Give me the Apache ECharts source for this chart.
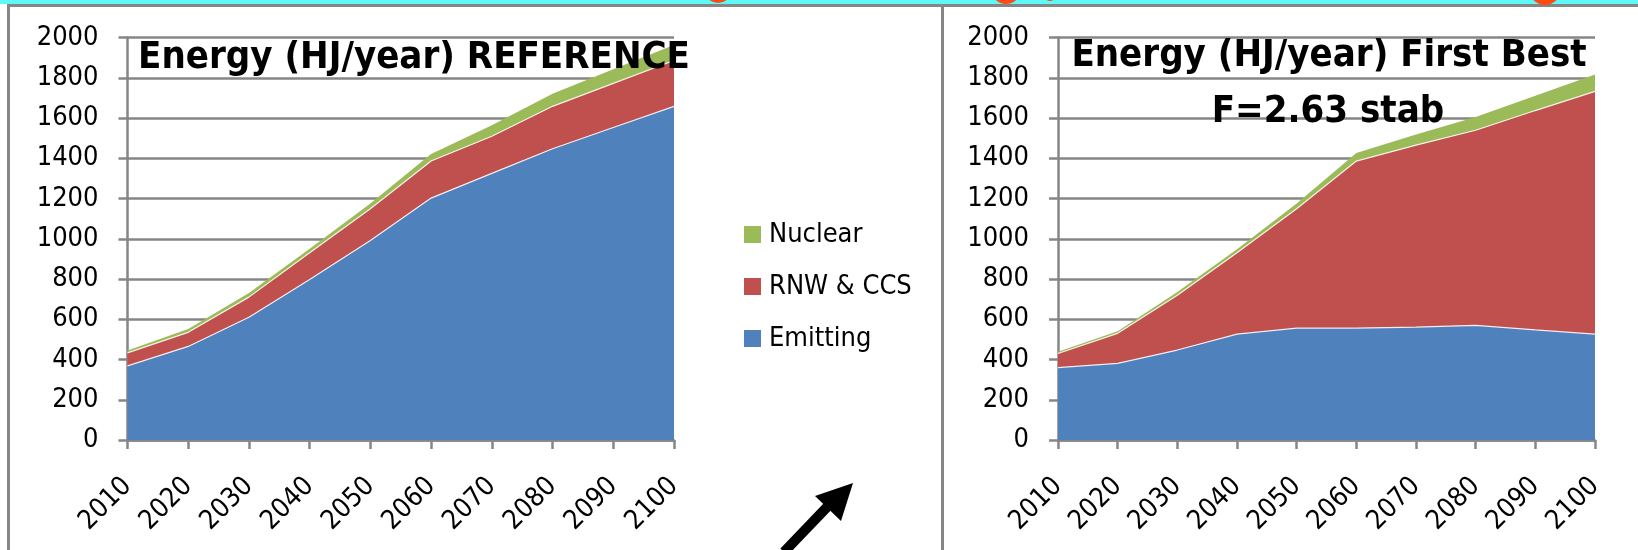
<!DOCTYPE html>
<html>
<head>
<meta charset="utf-8">
<script src="https://cdn.jsdelivr.net/npm/echarts@6/dist/echarts.min.js"></script>
<style>
  html, body { margin: 0; padding: 0; background: #fff; }
  #main { width: 1638px; height: 550px; }
</style>
</head>
<body>
<div id="main"></div>
<script>
// categories
var years = ['2010', '2020', '2030', '2040', '2050', '2060', '2070', '2080', '2090', '2100'];

// REFERENCE scenario (HJ/year)
var emitRef = [368, 465, 610, 798, 991, 1202, 1325, 1447, 1553, 1658];
var rnwRef  = [65, 70, 100, 132, 158, 184, 184, 211, 219, 228];
var nucRef  = [12, 16, 20, 20, 26, 35, 55, 62, 70, 77];

// First Best scenario (HJ/year)
var emitFB = [360, 381, 447, 526, 556, 556, 561, 570, 547, 526];
var rnwFB  = [70, 149, 272, 404, 593, 830, 904, 969, 1090, 1206];
var nucFB  = [9, 10, 16, 18, 26, 40, 53, 66, 74, 84];

var names = ['Nuclear', 'RNW & CCS', 'Emitting'];

var FONT = "'DejaVu Sans Condensed', 'DejaVu Sans', sans-serif";
var GREY = '#868686';

var myChart = echarts.init(document.getElementById('main'));

function makeX(idx) {
    return {
        type: 'category',
        gridIndex: idx,
        data: years,
        boundaryGap: false,
        axisLine: {lineStyle: {color: GREY, width: 2.5}},
        axisTick: {show: true, length: 9, lineStyle: {color: GREY, width: 2.5}},
        axisLabel: {
            interval: 0,
            rotate: 45,
            margin: 42,
            color: '#000',
            fontFamily: FONT,
            fontSize: 27
        }
    };
}

function makeY(idx) {
    return {
        type: 'value',
        gridIndex: idx,
        min: 0,
        max: 2000,
        interval: 200,
        axisLine: {show: true, lineStyle: {color: GREY, width: 2.5}},
        axisTick: {show: true, length: 9, lineStyle: {color: GREY, width: 2.5}},
        splitLine: {lineStyle: {color: GREY, width: 2.5}},
        axisLabel: {
            margin: 29,
            color: '#000',
            fontFamily: FONT,
            fontSize: 27,
            formatter: function (v) { return String(v); }
        }
    };
}

function area(name, data, idx, color, stack, edge) {
    return {
        name: name,
        type: 'line',
        xAxisIndex: idx,
        yAxisIndex: idx,
        stack: stack,
        data: data,
        showSymbol: false,
        symbol: 'none',
        itemStyle: {color: color},
        lineStyle: edge ? {color: 'rgba(255,255,255,0.85)', width: 1.2} : {width: 0},
        areaStyle: {color: color, opacity: 1},
        z: 2
    };
}

var blue = '#4F81BD', red = '#C0504D', green = '#9BBB59';

var series = [
    area('Emitting', emitRef, 0, blue, 'ref', true),
    area('RNW & CCS', rnwRef, 0, red, 'ref', true),
    area('Nuclear', nucRef, 0, green, 'ref', false),
    area('Emitting', emitFB, 1, blue, 'fb', true),
    area('RNW & CCS', rnwFB, 1, red, 'fb', true),
    area('Nuclear', nucFB, 1, green, 'fb', false)
];

var option = {
    animation: false,
    backgroundColor: '#fff',
    grid: [
        {left: 127.5, right: 964, top: 37.5, bottom: 110},
        {left: 1058, right: 43, top: 37.5, bottom: 110}
    ],
    xAxis: [makeX(0), makeX(1)],
    yAxis: [makeY(0), makeY(1)],
    legend: {
        data: names,
        orient: 'vertical',
        left: 739,
        top: 216,
        icon: 'rect',
        itemWidth: 17,
        itemHeight: 17,
        itemGap: 25,
        textStyle: {color: '#000', fontFamily: FONT, fontSize: 27, padding: [0, 0, 0, 3]}
    },
    graphic: [
        // cyan strip and frame
        {type: 'rect', shape: {x: 0, y: 0, width: 1638, height: 4}, style: {fill: '#5FF8F8'}, z: 10},
        {type: 'circle', shape: {cx: 718, cy: -11, r: 14}, style: {fill: '#FF4A12'}, z: 11},
        {type: 'circle', shape: {cx: 1006, cy: -11, r: 15}, style: {fill: '#FF4A12'}, z: 11},
        {type: 'circle', shape: {cx: 1050, cy: -5, r: 6}, style: {fill: '#FF4A12'}, z: 11},
        {type: 'circle', shape: {cx: 1545, cy: -11, r: 16}, style: {fill: '#FF4A12'}, z: 11},
        {type: 'line', shape: {x1: 7, y1: 5.5, x2: 1638, y2: 5.5}, style: {stroke: GREY, lineWidth: 3}, z: 10},
        {type: 'line', shape: {x1: 8.5, y1: 5, x2: 8.5, y2: 550}, style: {stroke: GREY, lineWidth: 3}, z: 10},
        {type: 'line', shape: {x1: 942.5, y1: 5, x2: 942.5, y2: 550}, style: {stroke: GREY, lineWidth: 3}, z: 10},
        // chart titles
        {type: 'text', x: 414, y: 58, z: 10, style: {
            text: 'Energy (HJ/year) REFERENCE', fill: '#000', align: 'center', verticalAlign: 'middle',
            font: 'bold 38px ' + FONT}},
        {type: 'text', x: 1329, y: 56, z: 10, style: {
            text: 'Energy (HJ/year) First Best', fill: '#000', align: 'center', verticalAlign: 'middle',
            font: 'bold 38px ' + FONT}},
        {type: 'text', x: 1328, y: 112, z: 10, style: {
            text: 'F=2.63 stab', fill: '#000', align: 'center', verticalAlign: 'middle',
            font: 'bold 38px ' + FONT}},
        // arrow
        {type: 'line', shape: {x1: 784, y1: 552, x2: 830, y2: 504}, style: {stroke: '#000', lineWidth: 10}, z: 10},
        {type: 'polygon', shape: {points: [[853, 483], [815, 496], [841, 521]]}, style: {fill: '#000'}, z: 10}
    ],
    series: series
};

myChart.setOption(option);
</script>
</body>
</html>
